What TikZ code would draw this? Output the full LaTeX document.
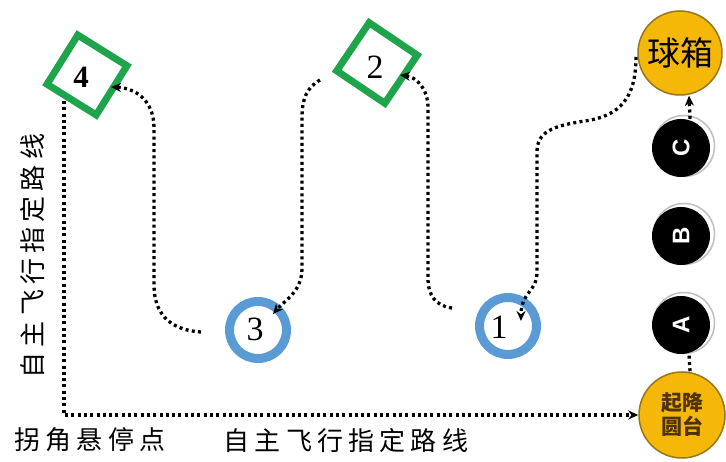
\documentclass[tikz,border=0pt]{standalone}
\usepackage{fontspec}
\setmainfont{Liberation Serif}
\setsansfont{Liberation Sans}
\newfontfamily\cjk{Noto Sans CJK SC}
\newfontfamily\cjksp[LetterSpace=20]{Noto Sans CJK SC}
\usetikzlibrary{arrows.meta}
\definecolor{sqgreen}{RGB}{30,164,74}
\definecolor{ringblue}{RGB}{91,155,213}
\definecolor{padyellow}{RGB}{246,184,8}
\definecolor{padedge}{RGB}{150,118,30}
\definecolor{padtext}{RGB}{80,50,10}
\begin{document}
\begin{tikzpicture}[x=1pt,y=-1pt,
  dots/.style={line width=3.3pt, dash pattern=on 3pt off 3.3pt, black},
  tip/.style={-{Stealth[length=10pt,width=9pt]}},
  sq/.style={draw=sqgreen, line width=7pt, minimum size=58pt, inner sep=0pt},
  ring/.style={circle, draw=ringblue, line width=9pt, minimum size=57pt, inner sep=0pt},
  ball/.style={circle, fill=black, minimum size=58pt, inner sep=0pt, text=white, font=\sffamily\bfseries\fontsize{24}{24}\selectfont},
  shadowring/.style={circle, draw=black!25, line width=1.5pt, minimum size=61pt, inner sep=0pt},
  pad/.style={circle, fill=padyellow, draw=padedge, line width=1.5pt, minimum size=86pt, inner sep=0pt},
  num/.style={inner sep=0pt, font=\fontsize{34}{34}\selectfont},
  lab/.style={inner sep=0pt, font=\cjksp\fontsize{26}{26}\selectfont}]
\useasboundingbox[fill=white] (0,0) rectangle (726,462);

% green squares
\node[sq, rotate=-32] (s4) at (87,75) {};
\node[sq, rotate=-34] (s2) at (377,63) {};
\node[num, font=\bfseries\fontsize{31}{31}\selectfont] (n4) at (81,77) {4};
\node[num] (n2) at (375,67) {2};

% blue rings
\node[ring] (r3) at (258,330) {};
\node[ring] (r1) at (508,326) {};
\node[num] (n3) at (255,329) {3};
\node[num] (n1) at (499,327) {1};

% black balls
\node[shadowring] (Cs) at (684,146) {};
\node[shadowring] (Bs) at (684,234) {};
\node[shadowring] (As) at (684,323) {};
\node[ball] (C) at (681,148) {\rotatebox{90}{C}};
\node[ball] (B) at (681,236) {\rotatebox{90}{B}};
\node[ball] (A) at (681,325) {\rotatebox{90}{A}};

% yellow discs
\node[pad, minimum size=84pt] (box) at (680,53) {};
\node[inner sep=0pt, font=\cjk\fontsize{33}{33}\selectfont] (boxt) at (680,53) {球箱};
\node[pad, align=center, text=padtext, font=\cjk\bfseries\fontsize{21}{24}\selectfont] (pad) at (682,415) {起降\\圆台};

% labels
\node[lab, rotate=90] (lv) at (33,256) {自主飞行指定路线};
\node[lab] (lc) at (90,440) {拐角悬停点};
\node[lab] (lh) at (346,441) {自主飞行指定路线};

% connector waypoints
\coordinate (p4) at (64,101);
\coordinate (b0) at (201,332);
\coordinate (b1) at (111,87);
\coordinate (c0) at (320,80);
\coordinate (c1) at (273,314);
\coordinate (d0) at (452,308);
\coordinate (d1) at (400,75);
\coordinate (e0) at (636,57);
\coordinate (e1) at (521,321);

% connectors
\draw[dots,tip] (p4) |- (pad.west);
\draw[dots,tip] (b0) .. controls (168,330) and (154,312) .. (154,285) -- (154,128) .. controls (154,100) and (135,88) .. (b1);
\draw[dots,tip] (c0) .. controls (306,88) and (302,100) .. (302,118) -- (302,268) .. controls (302,292) and (285,300) .. (c1);
\draw[dots,tip] (d0) .. controls (436,306) and (428,296) .. (428,278) -- (428,108) .. controls (428,88) and (416,77) .. (d1);
\draw[dots,tip] (e0) .. controls (636,98) and (620,116) .. (585,121) .. controls (552,126) and (537,132) .. (537,152) -- (537,272) .. controls (537,292) and (521,292) .. (e1);
\draw[dots,tip] ([xshift=9pt]C.north) -- ([xshift=9pt]box.south);
\draw[dots] ([xshift=8pt]pad.north) -- ([xshift=8pt]A.south);
\end{tikzpicture}
\end{document}
